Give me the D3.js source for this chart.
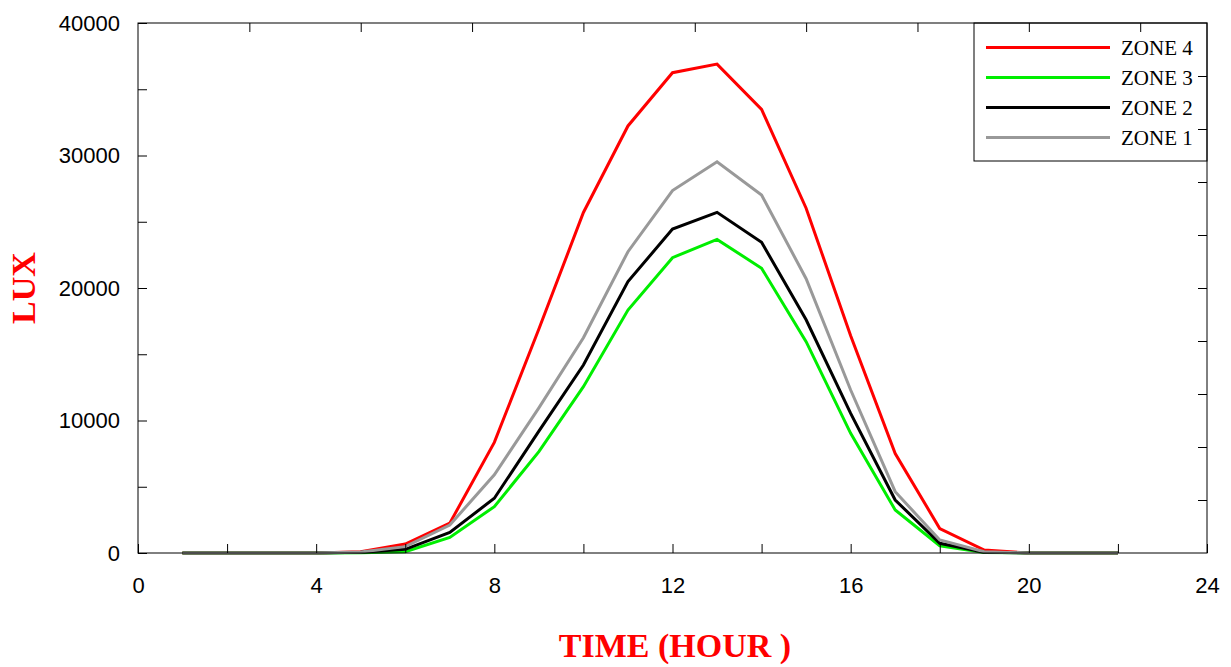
<!DOCTYPE html>
<html>
<head>
<meta charset="utf-8">
<script src="https://cdn.jsdelivr.net/npm/d3@7"></script>
<style>
  body { margin: 0; background: #fff; }
  svg { display: block; }
  .tick text { font-family: "Liberation Sans", Arial, sans-serif; font-size: 22px; fill: #000; }
  .tick line { stroke: #000; stroke-width: 1; }
</style>
</head>
<body>
<div id="chart"></div>
<script>
// hours of the day
var hours = [1, 2, 3, 4, 5, 6, 7, 8, 9, 10, 11, 12, 13, 14, 15, 16, 17, 18, 19, 20, 21, 22];

// illuminance (lux) per zone
var zone4 = [0, 0, 0, 0, 100, 680, 2250, 8350, 16900, 25700, 32230, 36250, 36900, 33480, 26020, 16400, 7500, 1850, 220, 0, 0, 0];
var zone3 = [0, 0, 0, 0, 20, 100, 1180, 3500, 7650, 12550, 18340, 22290, 23670, 21490, 15950, 9030, 3250, 550, 40, 0, 0, 0];
var zone2 = [0, 0, 0, 0, 50, 280, 1560, 4130, 9200, 14190, 20480, 24450, 25710, 23450, 17600, 10540, 4000, 730, 60, 0, 0, 0];
var zone1 = [0, 0, 0, 0, 80, 480, 2110, 5900, 10950, 16250, 22740, 27350, 29530, 27020, 20700, 12300, 4630, 980, 100, 0, 0, 0];

var seriesNames = ["ZONE 4", "ZONE 3", "ZONE 2", "ZONE 1"];
var seriesColors = ["#ff0000", "#00ee00", "#000000", "#999999"];

var xTicks = [0, 2, 4, 6, 8, 10, 12, 14, 16, 18, 20, 22, 24];
var xTopTicks = [2.5, 5, 7.5, 10, 12.5, 15, 17.5, 20, 22.5];
var yTicks = [0, 5000, 10000, 15000, 20000, 25000, 30000, 35000, 40000];
var yRightTicks = [4000, 8000, 12000, 16000, 20000, 24000, 28000, 32000, 36000];

var series = [zone4, zone3, zone2, zone1].map(function(vals, i) {
    return {
        name: seriesNames[i],
        color: seriesColors[i],
        values: vals.map(function(v, j) { return {x: hours[j], y: v}; })
    };
});

// Dimensions and Margins
var MARGINS = {top: 23, right: 24, bottom: 114, left: 138},
    WIDTH = 1231 - MARGINS.left - MARGINS.right,
    HEIGHT = 667 - MARGINS.top - MARGINS.bottom;

var svg = d3.select('#chart').append('svg')
    .attr('width', 1231)
    .attr('height', 667);

var g = svg.append('g')
    .attr('transform', 'translate(' + MARGINS.left + ',' + MARGINS.top + ')');

var x = d3.scaleLinear().domain([0, 24]).range([0, WIDTH]);
var y = d3.scaleLinear().domain([0, 40000]).range([HEIGHT, 0]);

// lines
var line = d3.line()
    .x(function(d) { return x(d.x); })
    .y(function(d) { return y(d.y); });

g.selectAll('path.zone')
    .data(series)
    .enter()
    .append('path')
        .attr('class', 'zone')
        .attr('d', function(d) { return line(d.values); })
        .attr('fill', 'none')
        .attr('stroke', function(d) { return d.color; })
        .attr('stroke-width', 3)
        .attr('stroke-linejoin', 'miter');

// legend box in the top right corner
var legend = g.append('g')
    .attr('transform', 'translate(' + (WIDTH - 233) + ',0)');

legend.append('rect')
    .attr('width', 233)
    .attr('height', 138)
    .attr('fill', '#fff')
    .attr('stroke', '#000')
    .attr('stroke-width', 1);

var item = legend.selectAll('g.item')
    .data(series)
    .enter()
    .append('g')
        .attr('class', 'item')
        .attr('transform', function(d, i) { return 'translate(0,' + (24.5 + i * 30) + ')'; });

item.append('line')
    .attr('x1', 12).attr('x2', 136)
    .attr('stroke', function(d) { return d.color; })
    .attr('stroke-width', 3);

item.append('text')
    .attr('x', 147)
    .attr('y', 7)
    .style('font-family', '"Liberation Serif", "Times New Roman", serif')
    .style('font-size', '21px')
    .text(function(d) { return d.name; });

// axes (ticks point inward)
var xAxis = g.append('g')
    .attr('transform', 'translate(0,' + HEIGHT + ')')
    .call(d3.axisBottom(x).tickValues(xTicks)
        .tickSizeInner(-9).tickSizeOuter(0).tickPadding(24)
        .tickFormat(function(d) { return d % 4 === 0 ? d : ''; }));

var yAxis = g.append('g')
    .call(d3.axisLeft(y).tickValues(yTicks)
        .tickSizeInner(-9).tickSizeOuter(0).tickPadding(18)
        .tickFormat(function(d) { return d % 10000 === 0 ? d : ''; }));

var xTop = g.append('g')
    .call(d3.axisTop(x).tickValues(xTopTicks)
        .tickSizeInner(-9).tickSizeOuter(0).tickFormat(''));

var yRight = g.append('g')
    .attr('transform', 'translate(' + WIDTH + ',0)')
    .call(d3.axisRight(y).tickValues(yRightTicks)
        .tickSizeInner(-9).tickSizeOuter(0).tickFormat(''));

g.selectAll('.domain').remove();

// frame
g.append('rect')
    .attr('width', WIDTH)
    .attr('height', HEIGHT)
    .attr('fill', 'none')
    .attr('stroke', '#000')
    .attr('stroke-width', 1);

// axis titles
svg.append('text')
    .attr('transform', 'translate(35,288) rotate(-90)')
    .attr('text-anchor', 'middle')
    .style('font-family', '"Liberation Serif", "Times New Roman", serif')
    .style('font-weight', 'bold')
    .style('font-size', '34px')
    .style('fill', '#ff0000')
    .text('LUX');

svg.append('text')
    .attr('x', 675)
    .attr('y', 657)
    .attr('text-anchor', 'middle')
    .style('font-family', '"Liberation Serif", "Times New Roman", serif')
    .style('font-weight', 'bold')
    .style('font-size', '34px')
    .style('fill', '#ff0000')
    .text('TIME (HOUR )');
</script>
</body>
</html>
